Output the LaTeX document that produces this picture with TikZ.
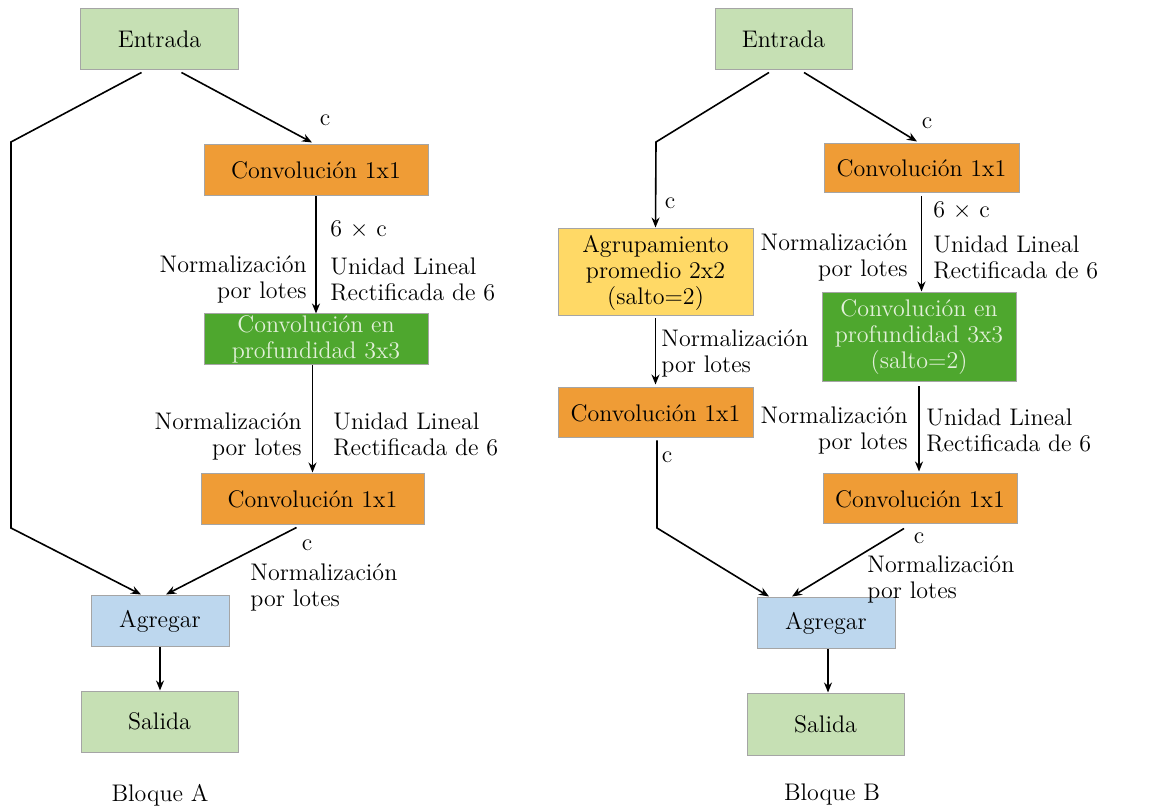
\documentclass[tikz,border=0pt]{standalone}
\usetikzlibrary{arrows.meta,calc}
\definecolor{inout}{HTML}{C6E0B4}
\definecolor{convor}{HTML}{EF9C36}
\definecolor{dwgreen}{HTML}{4EA72E}
\definecolor{dwtext}{HTML}{E2F0D9}
\definecolor{poolyel}{HTML}{FFD966}
\definecolor{addblue}{HTML}{BDD7EE}
\definecolor{edgegrey}{HTML}{A5A5A5}
\begin{document}
\begin{tikzpicture}[x=0.5pt,y=-0.5pt,
  font=\fontsize{12}{13}\selectfont,
  box/.style={draw=edgegrey,line width=0.5pt,rectangle,inner sep=0pt,align=center,text=black},
  lbl/.style={inner sep=0pt,align=left},
  lblr/.style={inner sep=0pt,align=right},
  flow/.style={line width=0.8pt,-{Stealth[length=5pt,width=4pt]}},
  plain/.style={line width=0.8pt}]
\useasboundingbox (0,0) rectangle (1162,806);

% ---------------- Bloque A ----------------
\node[box,fill=inout,minimum width=79pt,minimum height=30.5pt] (eA) at (159.5,39.5) {Entrada};
\node[box,fill=convor,minimum width=112pt,minimum height=25.5pt] (c1A) at (316,170.5) {Convolución 1x1};
\node[box,fill=dwgreen,text=dwtext,minimum width=112pt,minimum height=25.5pt] (gA) at (316,339.5) {Convolución en\\profundidad 3x3};
\node[box,fill=convor,minimum width=111.5pt,minimum height=25.5pt] (c2A) at (312.5,499.5) {Convolución 1x1};
\node[box,fill=addblue,minimum width=69pt,minimum height=25.5pt] (addA) at (160,621.5) {Agregar};
\node[box,fill=inout,minimum width=78.5pt,minimum height=30.5pt] (outA) at (159.5,721.5) {Salida};
\node[inner sep=0pt] (tA) at (160,795) {Bloque A};

\coordinate (kA1) at (11,142);
\coordinate (kA2) at (11,528);
\draw[flow] ($(eA.south)+(-18,2)$) -- (kA1) -- (kA2) -- ($(addA.north)+(-19,-1)$);
\draw[flow] ($(eA.south)+(22,2)$) -- ($(c1A.north)+(-4,-2)$);
\draw[flow] (c1A.south) -- (gA.north);
\draw[flow] (c2A.north |- gA.south) -- ($(c2A.north)+(0,-1)$);
\draw[flow] ($(c2A.south)+(-16,2)$) -- ($(addA.north)+(6,-1)$);
\draw[flow] (addA.south) -- (addA.south |- outA.north);

\node[lbl] (lA1) at (325,120) {c};
\node[lbl,anchor=west] (lA2) at (330,230) {6 $\times$ c};
\node[lblr,anchor=east] (lA3) at (307,279) {Normalización\\por lotes};
\node[lbl,anchor=west] (lA4) at (330,279) {Unidad Lineal\\Rectificada de 6};
\node[lblr,anchor=east] (lA5) at (302,436) {Normalización\\por lotes};
\node[lbl,anchor=west] (lA6) at (333,434) {Unidad Lineal\\Rectificada de 6};
\node[lbl] (lA7) at (307,545) {c};
\node[lbl,anchor=west] (lA8) at (250,587) {Normalización\\por lotes};

% ---------------- Bloque B ----------------
\node[box,fill=inout,minimum width=68.5pt,minimum height=30.5pt] (eB) at (783.5,39.5) {Entrada};
\node[box,fill=convor,minimum width=97.5pt,minimum height=24.5pt] (c1B) at (921.5,168.5) {Convolución 1x1};
\node[box,fill=poolyel,minimum width=97.5pt,minimum height=43.5pt] (agB) at (655.5,272.5) {Agrupamiento\\promedio 2x2\\(salto=2)};
\node[box,fill=dwgreen,text=dwtext,minimum width=97pt,minimum height=44.5pt] (gB) at (919,337.5) {Convolución en\\profundidad 3x3\\(salto=2)};
\node[box,fill=convor,minimum width=97.5pt,minimum height=25pt] (c2B) at (655.5,413) {Convolución 1x1};
\node[box,fill=convor,minimum width=97pt,minimum height=25pt] (c3B) at (920,499) {Convolución 1x1};
\node[box,fill=addblue,minimum width=69pt,minimum height=25.5pt] (addB) at (826,623.5) {Agregar};
\node[box,fill=inout,minimum width=78.5pt,minimum height=31pt] (outB) at (825.5,724) {Salida};
\node[inner sep=0pt] (tB) at (832,794) {Bloque B};

\coordinate (kB1) at (656,142);
\coordinate (kB2) at (657,528);
\draw[flow] ($(eB.south)+(-14.5,2)$) -- (kB1) -- ($(agB.north)+(0,-1)$);
\draw[flow] ($(eB.south)+(20.5,2)$) -- ($(c1B.north)+(-4.5,-2)$);
\draw[flow] ($(c1B.south)+(0,3)$) -- ($(c1B.south |- gB.north)+(0,-1)$);
\draw[flow] ($(agB.south)+(0,2)$) -- ($(c2B.north)+(0,-3)$);
\draw[flow] ($(c2B.south)+(1.5,2)$) -- (kB2) -- ($(addB.north)+(-57,-1)$);
\draw[flow] ($(gB.south)+(0,4)$) -- ($(gB.south |- c3B.north)+(0,-2)$);
\draw[flow] ($(c3B.south)+(-16,4)$) -- ($(addB.north)+(-34,-1)$);
\draw[flow] ($(addB.south)+(2,0)$) -- ($(addB.south |- outB.north)+(2,0)$);

\node[lbl] (lB1) at (670,203) {c};
\node[lbl] (lB2) at (927,123) {c};
\node[lbl,anchor=west] (lB3) at (933,211) {6 $\times$ c};
\node[lblr,anchor=east] (lB4) at (908,257) {Normalización\\por lotes};
\node[lbl,anchor=west] (lB5) at (933,257) {Unidad Lineal\\Rectificada de 6};
\node[lbl,anchor=west] (lB6) at (661,353) {Normalización\\por lotes};
\node[lbl] (lB7) at (667,457) {c};
\node[lblr,anchor=east] (lB8) at (908,430) {Normalización\\por lotes};
\node[lbl,anchor=west] (lB9) at (926,430) {Unidad Lineal\\Rectificada de 6};
\node[lbl] (lB10) at (919,538) {c};
\node[lbl,anchor=west] (lB11) at (867,579) {Normalización\\por lotes};
\end{tikzpicture}
\end{document}
